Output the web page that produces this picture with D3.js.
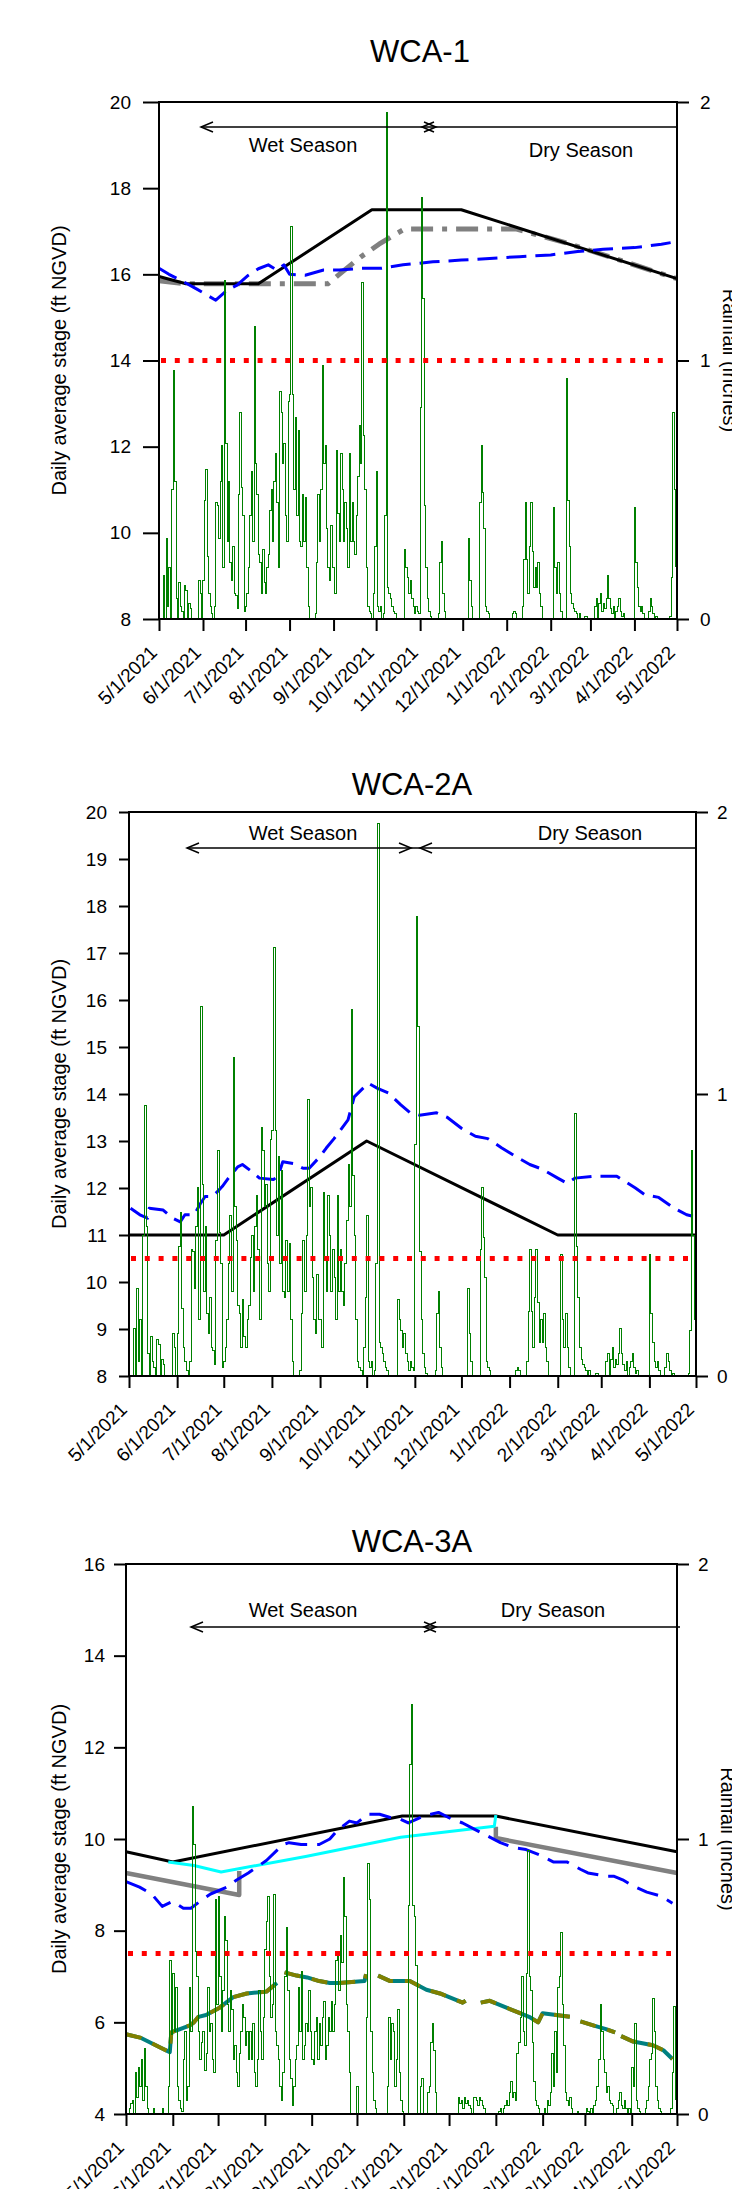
<!DOCTYPE html>
<meta charset="utf-8">
<style>
body { margin: 0; background: #fff; }
svg text { font-family: "Liberation Sans", Arial, sans-serif; fill: #000; }
</style>
<body>
<script src="https://cdn.jsdelivr.net/npm/d3@7"></script>
<script>

// ---- data ----
var xTickLabels = ["5/1/2021","6/1/2021","7/1/2021","8/1/2021","9/1/2021","10/1/2021","11/1/2021",
                   "12/1/2021","1/1/2022","2/1/2022","3/1/2022","4/1/2022","5/1/2022"];

// WCA-1
var wca1RegDates = ["5/1/2021","5/20/2021","7/10/2021","9/28/2021","11/30/2021","5/1/2022"];
var wca1RegStage = [15.95, 15.78, 15.78, 17.5, 17.5, 15.9];
var wca1GrayDates = ["5/1/2021","5/20/2021","8/28/2021","9/5/2021","9/20/2021","10/3/2021","10/13/2021",
                     "10/21/2021","1/8/2022","2/13/2022","5/1/2022"];
var wca1GrayStage = [15.85, 15.78, 15.78, 16.0, 16.4, 16.7, 16.9, 17.05, 17.05, 16.72, 15.9];
var wca1StageDates = ["5/1/2021","5/8/2021","5/16/2021","5/28/2021","6/10/2021","6/18/2021","6/25/2021",
                      "7/3/2021","7/10/2021","7/17/2021","7/23/2021","7/28/2021","8/1/2021","8/12/2021",
                      "8/25/2021","9/5/2021","9/20/2021","10/5/2021","10/20/2021","11/10/2021","11/30/2021",
                      "12/20/2021","1/10/2022","2/1/2022","2/20/2022","3/10/2022","4/1/2022","4/20/2022","5/1/2022"];
var wca1Stage = [16.14, 16.0, 15.87, 15.65, 15.4, 15.63, 15.75, 15.98, 16.13, 16.22, 16.1, 16.22, 16.0, 15.98,
                 16.1, 16.1, 16.14, 16.14, 16.22, 16.29, 16.33, 16.37, 16.41, 16.45, 16.53, 16.58, 16.62, 16.7, 16.76];
var wca1Floor = 14;

// WCA-2A
var wca2RegDates = ["5/1/2021","7/1/2021","10/1/2021","2/1/2022","5/1/2022"];
var wca2RegStage = [11, 11, 13, 11, 11];
var wca2StageDates = ["5/2/2021","5/8/2021","5/13/2021","5/14/2021","5/23/2021","5/29/2021","6/3/2021","6/6/2021",
                      "6/12/2021","6/16/2021","6/19/2021","6/24/2021","6/30/2021","7/4/2021","7/10/2021","7/13/2021",
                      "7/19/2021","7/24/2021","8/2/2021","8/5/2021","8/8/2021","8/15/2021","8/21/2021","8/25/2021",
                      "9/1/2021","9/5/2021","9/10/2021","9/19/2021","9/23/2021","10/2/2021","10/8/2021","10/15/2021",
                      "10/23/2021","10/29/2021","11/4/2021","11/15/2021","11/22/2021","12/1/2021","12/10/2021",
                      "12/18/2021","12/27/2021","1/6/2022","1/14/2022","1/22/2022","2/1/2022","2/7/2022","2/12/2022",
                      "2/24/2022","3/11/2022","3/23/2022","3/29/2022","4/7/2022","4/17/2022","4/25/2022","4/29/2022"];
var wca2Stage = [11.57, 11.43, 11.36, 11.57, 11.53, 11.36, 11.28, 11.43, 11.43, 11.67, 11.82, 11.82, 12.03, 12.21,
                 12.45, 12.5, 12.35, 12.21, 12.18, 12.25, 12.56, 12.52, 12.42, 12.42, 12.67, 12.85, 13.05, 13.45,
                 13.94, 14.23, 14.12, 14.02, 13.77, 13.6, 13.55, 13.6, 13.5, 13.27, 13.1, 13.05, 12.85, 12.65, 12.5,
                 12.4, 12.21, 12.1, 12.21, 12.25, 12.25, 12.0, 11.86, 11.8, 11.57, 11.43, 11.4];
var wca2Floor = 10.5;

// WCA-3A
var wca3RegDates = ["5/1/2021","6/1/2021","10/31/2021","1/1/2022","5/1/2022"];
var wca3RegStage = [9.72, 9.5, 10.5, 10.5, 9.72];
var wca3CyanDates = ["5/29/2021","6/15/2021","7/3/2021","8/28/2021","10/30/2021","12/31/2021","1/1/2022"];
var wca3CyanStage = [9.5, 9.42, 9.28, 9.62, 10.04, 10.28, 10.52];
var wca3GrayDates = ["5/1/2021","7/15/2021","7/15/2021","8/1/2021","1/1/2022","1/1/2022","5/1/2022"];
var wca3GrayStage = [9.26, 8.78, 9.3, null, 10.27, 10.02, 9.26];
var wca3StageDates = ["5/1/2021","5/10/2021","5/18/2021","5/25/2021","6/1/2021","6/8/2021","6/13/2021","6/19/2021",
                      "6/26/2021","7/7/2021","7/13/2021","7/21/2021","8/2/2021","8/13/2021","8/17/2021","8/25/2021",
                      "9/6/2021","9/13/2021","9/18/2021","9/26/2021","10/1/2021","10/8/2021","10/16/2021","10/23/2021",
                      "10/30/2021","11/4/2021","11/14/2021","11/19/2021","11/24/2021","12/3/2021","12/10/2021",
                      "12/18/2021","12/28/2021","1/4/2022","1/13/2022","1/21/2022","1/30/2022","2/8/2022","2/17/2022",
                      "2/26/2022","3/3/2022","3/15/2022","3/20/2022","3/26/2022","4/1/2022","4/11/2022","4/20/2022","4/28/2022"];
var wca3Stage = [9.07, 8.95, 8.8, 8.53, 8.64, 8.49, 8.49, 8.64, 8.8, 8.95, 9.1, 9.26, 9.53, 9.88, 9.92, 9.88,
                 9.88, 10.0, 10.19, 10.39, 10.35, 10.54, 10.54, 10.47, 10.43, 10.35, 10.5, 10.54, 10.58, 10.43,
                 10.35, 10.21, 10.04, 9.92, 9.81, 9.77, 9.65, 9.5, 9.5, 9.34, 9.26, 9.19, 9.19, 9.11, 8.99, 8.84, 8.76, 8.6];
var wca3LowDates = ["5/1/2021","5/11/2021","5/25/2021","5/30/2021","5/31/2021","6/12/2021","6/15/2021","6/18/2021",
                    "6/23/2021","7/2/2021","7/11/2021","7/20/2021","8/2/2021","8/9/2021","8/11/2021","8/14/2021",
                    "8/22/2021","8/29/2021","9/6/2021","9/13/2021","9/19/2021","10/6/2021","10/7/2021","10/10/2021",
                    "10/15/2021","10/23/2021","11/5/2021","11/16/2021","11/25/2021","12/10/2021","12/12/2021",
                    "12/18/2021","12/22/2021","12/28/2021","1/8/2022","1/17/2022","1/23/2022","1/29/2022","2/1/2022",
                    "2/10/2022","2/19/2022","2/22/2022","2/26/2022","3/7/2022","3/15/2022","3/21/2022","3/23/2022",
                    "3/25/2022","4/2/2022","4/15/2022","4/22/2022","4/28/2022"];
var wca3LowStage = [5.74, 5.66, 5.43, 5.35, 5.78, 5.93, 6.0, 6.12, 6.16, 6.32, 6.55, 6.63, 6.67, 6.86, null, 7.09,
                    7.02, 6.98, 6.9, 6.86, 6.86, 6.9, 7.05, null, 7.02, 6.9, 6.9, 6.71, 6.63, 6.43, 6.47, null,
                    6.43, 6.47, 6.32, 6.2, 6.12, 6.0, 6.2, 6.16, 6.12, null, 6.02, 5.93, 5.85, 5.78, null,
                    5.7, 5.58, 5.5, 5.39, 5.2];
var wca3Floor = 7.5;

// daily rainfall (inches), 5/1/2021 .. 4/30/2022
var rain12 = [
  0,0,0,0.17,0,0.31,0.05,0.2,0,0.5,0.96,0.53,0.08,0,0.14,0.05,0.03,0,0.13,0.11,0,0.06,0.04,0,0,0,0,0,0.15,0.1,0,
  0.15,0.46,0.58,0.24,0.1,0.05,0.02,0,0.05,0.45,0.44,0.31,0.53,0.67,0.2,1.31,0.68,0.3,0.53,0.22,0.15,0.28,0.1,0.09,0.04,0.48,0.8,0.51,0.4,0.03,
  0.05,0.1,0.2,0.4,0.57,0.3,1.13,0.6,0.48,0.25,0.22,0.1,0.27,0.14,0.1,0.2,0.25,0.42,0.5,0.3,0.53,0.64,0.45,0.2,0.88,0.8,0.6,0.68,0.4,0.3,0.84,
  0.87,1.52,0.87,0.5,0.78,0.4,0.73,0.3,0.28,0.48,0.3,0.47,0.2,0.05,0,0,0,0,0.02,0.22,0.48,0.3,0.5,0.98,0.6,0.67,0.35,0.2,0.15,0.36,0.2,
  0.2,0.1,0.65,0.41,0.3,0.64,0.5,0.3,0.45,0.35,0.2,0.64,0.3,0.45,0.3,0.25,0.4,0.55,0.75,0.6,1.3,0.71,0.5,0.2,0.05,0.03,0.02,0,0.1,0.28,
  0.57,0.05,0.03,0.05,0,0.02,0.4,1.96,0.12,0.1,0.08,0.05,0.03,0.02,0,0,0,0,0,0,0.27,0.2,0.16,0.1,0.15,0.08,0.05,0.02,0.05,0.03,0.02,
  0.82,1.63,1.24,0.44,0.2,0.08,0.03,0.01,0,0,0,0,0,0.02,0.22,0.3,0.1,0.03,0,0,0,0,0,0,0,0,0,0,0,0,
  0,0,0,0,0.31,0.15,0.05,0,0,0,0,0,0.45,0.67,0.49,0.35,0.05,0.03,0.02,0,0,0,0,0,0,0,0,0,0,0,0,
  0,0,0,0,0.02,0.03,0.02,0,0,0,0,0.05,0.23,0.45,0.23,0.1,0.28,0.45,0.26,0.12,0.2,0.12,0.22,0.1,0.05,0,0,0,0,0,0,
  0,0,0.43,0.2,0.1,0.22,0.1,0.03,0,0,0,0.93,0.46,0.28,0.1,0.06,0.04,0.03,0.02,0,0.02,0,0,0,0.01,0.01,0,0,
  0,0,0,0.05,0.08,0,0.06,0.1,0.03,0.06,0.04,0.08,0.17,0.08,0.04,0.02,0.05,0,0.03,0.05,0.08,0.03,0.01,0.02,0,0,0,0,0,0,0,
  0.43,0.22,0.12,0.05,0.03,0.05,0.02,0,0,0,0.03,0.08,0.05,0.02,0,0.01,0,0,0,0,0,0,0,0,0,0.01,0.16,0.8,0.5,0.2
];
var rain3A = [
  0,0,0.02,0.04,0.05,0,0.15,0.06,0.17,0.1,0.2,0.05,0.24,0.1,0.02,0,0,0,0.02,0,0,0,0,0,0.02,0,0,0,0.1,0.56,0.29,
  0.51,0.3,0.46,0.1,0.05,0.02,0.01,0.2,0.3,0.05,0.1,0.46,0.3,1.12,0.98,0.59,0.5,0.3,0.2,0.26,0.3,0.16,0.22,0.46,0.3,0.33,0.2,0.15,0.78,0.4,
  0.79,0.5,0.3,0.45,0.72,0.63,0.4,0.3,0.45,0.38,0.2,0.25,0.15,0.1,0.22,0.3,0.4,0.35,0.25,0.3,0.2,0.3,0.2,0.33,0.15,0.1,0.2,0.45,0.3,0.2,0.35,
  0.6,0.7,0.79,0.5,0.35,0.4,0.8,0.3,0.25,0.2,0.1,0.05,0.15,0.5,0.68,0.45,0.2,0.13,0.03,0.1,0.2,0.25,0.46,0.3,0.52,0.2,0.25,0.33,0.3,0.45,0.3,
  0.2,0.18,0.3,0.35,0.2,0.33,0.25,0.35,0.41,0.2,0.25,0.35,0.3,0.41,0.3,0.4,0.56,0.59,0.45,0.65,0.55,0.86,0.72,0.4,0.3,0.15,0,0,0,0,
  0.1,0,0,0,0,0,0.35,0.91,0.78,0.3,0.15,0.05,0.02,0,0,0,0,0,0,0,0.1,0.35,0.2,0.33,0.3,0.1,0.2,0.38,0.15,0.05,0.01,
  0,0,0,0.76,1.27,1.49,0.76,0.72,0.54,0,0,0.1,0.13,0,0,0,0.08,0.1,0.26,0.33,0.23,0.08,0,0,0,0,0,0,0,0,
  0,0,0,0,0,0,0.06,0.04,0.05,0.02,0.06,0.04,0.05,0.03,0.02,0,0.06,0.06,0.05,0.03,0.06,0.05,0.03,0.02,0,0,0,0,0,0,0,
  0,0,0.01,0.02,0,0.02,0.03,0.05,0.03,0.08,0.12,0.06,0.08,0.05,0.22,0.26,0.35,0.5,0.3,0.25,0.51,0.96,0.5,0.45,0.26,0.12,0.05,0.03,0.02,0,0,
  0,0.02,0,0.05,0.03,0.08,0.22,0.1,0.3,0.15,0.46,0.5,0.66,0.4,0.25,0.08,0.05,0.03,0.06,0.02,0,0,0,0.01,0,0,0,0,
  0,0.02,0.01,0,0.02,0,0.03,0.05,0.1,0.2,0.4,0.3,0.2,0.15,0.08,0.1,0.05,0.04,0.03,0,0,0.02,0.05,0.08,0.03,0.02,0.05,0.02,0,0.02,0,
  0.17,0.1,0.33,0.05,0.02,0.01,0,0,0,0.02,0.05,0.1,0.2,0.22,0.42,0.3,0.1,0.05,0.02,0.01,0,0,0,0,0,0,0.02,0.15,0.39,0.05
];

// ---- drawing ----
var parse = d3.timeParse("%-m/%-d/%Y");
var start = parse("5/1/2021"), end = parse("5/1/2022");

function pairs(dates, vals) {
  return dates.map(function(d, i) { return {date: parse(d), v: vals[i]}; });
}
function daily(vals) {
  return vals.map(function(v, i) { return {date: d3.timeDay.offset(start, i), v: v}; });
}

var svg = d3.select("body").append("svg")
    .attr("width", 732)
    .attr("height", 2189);

function drawPanel(c) {
  var x = d3.scaleTime().domain([start, end]).range([c.left, c.right]);
  var y = d3.scaleLinear().domain(c.yDomain).range([c.bottom, c.top]);
  var yR = d3.scaleLinear().domain([0, 2]).range([c.bottom, c.top]);
  var g = svg.append("g");

  var line = d3.line()
      .defined(function(d) { return d.v != null; })
      .x(function(d) { return x(d.date); })
      .y(function(d) { return y(d.v); });

  // title
  g.append("text")
      .attr("x", c.titleX).attr("y", c.titleY)
      .attr("text-anchor", "middle")
      .style("font-size", "31px")
      .text(c.title);

  // stage lines
  c.lines.forEach(function(s) {
    g.append("path")
        .datum(s.data)
        .attr("d", line)
        .attr("fill", "none")
        .attr("stroke", s.color)
        .attr("stroke-width", s.width)
        .attr("stroke-dasharray", s.dash || null)
        .attr("stroke-linejoin", "round");
  });

  // rainfall, right axis
  g.append("path")
      .datum(daily(c.rain))
      .attr("d", d3.line()
        .x(function(d) { return x(d.date); })
        .y(function(d) { return yR(d.v); })
        .curve(d3.curveStepAfter))
      .attr("fill", "none")
      .attr("stroke", "#008000")
      .attr("stroke-width", 1)
      .attr("shape-rendering", "crispEdges");

  // floor line
  g.append("line")
      .attr("x1", c.left + 2).attr("x2", c.right - 6)
      .attr("y1", y(c.floor)).attr("y2", y(c.floor))
      .attr("stroke", "#ff0000")
      .attr("stroke-width", 5)
      .attr("stroke-dasharray", "5,8.8");

  // frame
  g.append("rect")
      .attr("x", c.left).attr("y", c.top)
      .attr("width", c.right - c.left).attr("height", c.bottom - c.top)
      .attr("fill", "none").attr("stroke", "#000").attr("stroke-width", 2);

  // season arrows
  var sy = c.seasonY;
  g.append("line").attr("x1", c.wet[0]).attr("x2", c.dryEnd).attr("y1", sy).attr("y2", sy)
      .attr("stroke", "#000").attr("stroke-width", 1.5);
  function head(tip, dir) {
    g.append("path")
        .attr("d", "M" + (tip - dir * 12) + "," + (sy - 5) + "L" + tip + "," + sy + "L" + (tip - dir * 12) + "," + (sy + 5))
        .attr("fill", "none").attr("stroke", "#000").attr("stroke-width", 1.5);
  }
  head(c.wet[0], -1);
  head(c.wet[1], 1);
  head(c.dryStart, -1);
  g.append("text").attr("x", c.wetTextX).attr("y", c.seasonTextY)
      .attr("text-anchor", "middle").style("font-size", "20px").text("Wet Season");
  g.append("text").attr("x", c.dryTextX).attr("y", c.seasonTextY2 || c.seasonTextY)
      .attr("text-anchor", "middle").style("font-size", "20px").text("Dry Season");

  // axes
  var axL = g.append("g")
      .attr("transform", "translate(" + c.left + ",0)")
      .call(d3.axisLeft(y).tickValues(c.yTicks).tickSize(c.tickL).tickPadding(c.padL));
  var axR = g.append("g")
      .attr("transform", "translate(" + c.right + ",0)")
      .call(d3.axisRight(yR).tickValues([0, 1, 2]).tickFormat(d3.format("d")).tickSize(12).tickPadding(c.padR));
  var axB = g.append("g")
      .attr("transform", "translate(0," + c.bottom + ")")
      .call(d3.axisBottom(x)
        .tickValues(xTickLabels.map(parse))
        .tickFormat(d3.timeFormat("%-m/%-d/%Y"))
        .tickSize(12));
  axB.selectAll("text")
      .attr("y", 0).attr("x", 0).attr("dy", "0.35em")
      .attr("transform", "translate(-6,30) rotate(-45)")
      .style("text-anchor", "end")
      .style("font-size", "19px");

  [axL, axR, axB].forEach(function(a) {
    a.select(".domain").remove();
    a.selectAll(".tick line").attr("stroke", "#000").attr("stroke-width", 2);
  });
  axL.selectAll("text").style("font-size", "19px");
  axR.selectAll("text").style("font-size", "19px");

  // axis titles
  var cy = (c.top + c.bottom) / 2;
  g.append("text")
      .attr("transform", "translate(66," + cy + ") rotate(-90)")
      .attr("text-anchor", "middle")
      .style("font-size", "20px")
      .text("Daily average stage (ft NGVD)");
  if (c.rTitleX) {
    g.append("text")
        .attr("transform", "translate(" + c.rTitleX + "," + cy + ") rotate(90)")
        .attr("text-anchor", "middle")
        .style("font-size", "20px")
        .text("Rainfall (inches)");
  }
}

drawPanel({
  title: "WCA-1", titleX: 420, titleY: 62,
  left: 159, right: 677, top: 102, bottom: 619,
  yDomain: [8, 20], yTicks: [8, 10, 12, 14, 16, 18, 20], tickL: 16, padL: 12, padR: 11,
  rTitleX: 723,
  floor: wca1Floor, rain: rain12,
  seasonY: 127, wet: [201, 436], dryStart: 422, dryEnd: 677,
  wetTextX: 303, dryTextX: 581, seasonTextY: 152, seasonTextY2: 157,
  lines: [
    {data: pairs(wca1GrayDates, wca1GrayStage), color: "#808080", width: 5, dash: "22,9,5,9"},
    {data: pairs(wca1RegDates, wca1RegStage), color: "#000", width: 3},
    {data: pairs(wca1StageDates, wca1Stage), color: "#0000ff", width: 3, dash: "20,9"}
  ]
});

drawPanel({
  title: "WCA-2A", titleX: 412, titleY: 795,
  left: 129, right: 696, top: 812, bottom: 1376,
  yDomain: [8, 20], yTicks: d3.range(8, 21), tickL: 10, padL: 12, padR: 9,
  rTitleX: null,
  floor: wca2Floor, rain: rain12,
  seasonY: 848, wet: [187, 411], dryStart: 420, dryEnd: 696,
  wetTextX: 303, dryTextX: 590, seasonTextY: 840,
  lines: [
    {data: pairs(wca2RegDates, wca2RegStage), color: "#000", width: 3},
    {data: pairs(wca2StageDates, wca2Stage), color: "#0000ff", width: 3, dash: "20,9"}
  ]
});

drawPanel({
  title: "WCA-3A", titleX: 412, titleY: 1552,
  left: 126, right: 677, top: 1564, bottom: 2114,
  yDomain: [4, 16], yTicks: [4, 6, 8, 10, 12, 14, 16], tickL: 12, padL: 9, padR: 9,
  rTitleX: 721,
  floor: wca3Floor, rain: rain3A,
  seasonY: 1627, wet: [191, 436], dryStart: 424, dryEnd: 680,
  wetTextX: 303, dryTextX: 553, seasonTextY: 1617,
  lines: [
    {data: pairs(wca3RegDates, wca3RegStage), color: "#000", width: 3},
    {data: pairs(wca3GrayDates, wca3GrayStage), color: "#808080", width: 4.5},
    {data: pairs(wca3CyanDates, wca3CyanStage), color: "#00ffff", width: 3},
    {data: pairs(wca3StageDates, wca3Stage), color: "#0000ff", width: 3, dash: "22,10"},
    {data: pairs(wca3LowDates, wca3LowStage), color: "#008080", width: 4},
    {data: pairs(wca3LowDates, wca3LowStage), color: "#808000", width: 4, dash: "16,12"}
  ]
});

</script>
</body>
